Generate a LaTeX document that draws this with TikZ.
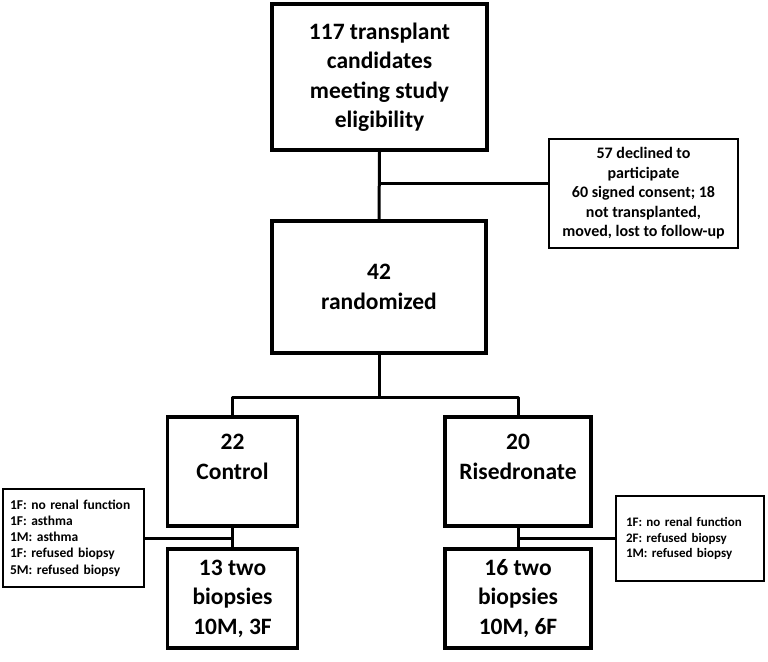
\documentclass[tikz,border=0pt]{standalone}
\usepackage{fontspec}
\setmainfont{Carlito}

\tikzset{
  bigbox/.style={draw, line width=3.2pt, align=center, inner sep=0pt,
    font=\bfseries\fontsize{23.5}{29.5}\selectfont},
  sidebox/.style={draw, line width=1.7pt, align=center, inner sep=0pt,
    font=\bfseries\fontsize{16}{19.5}\selectfont},
  notebox/.style={draw, line width=1.7pt, align=left, inner xsep=7pt, inner ysep=0pt},
  link/.style={line width=3pt, line join=round}
}

\begin{document}
\begin{tikzpicture}[x=1pt,y=-1pt]
        \useasboundingbox (0,0) rectangle (768,661);
        %
        \node [bigbox, minimum width=215pt, minimum height=146pt] (elig) at (379.5,77)
          {117 transplant\\candidates\\meeting study\\eligibility};
        \node [sidebox, minimum width=189pt, minimum height=109pt] (excl) at (643.5,193.5)
          {57 declined to\\participate\\60 signed consent; 18\\not transplanted,\\moved, lost to follow-up};
        \node [bigbox, minimum width=214pt, minimum height=132pt] (rand) at (379,287)
          {42\\randomized};
        %
        \node [bigbox, minimum width=130pt, minimum height=109pt] (ctrl) at (232.5,471.5)
          {22\\Control\\\mbox{}};
        \node [bigbox, minimum width=146pt, minimum height=109pt] (rise) at (518,471.5)
          {20\\Risedronate\\\mbox{}};
        \node [bigbox, minimum width=130pt, minimum height=99pt] (ctrlbx) at (232.5,598.5)
          {13 two\\biopsies\\10M, 3F};
        \node [bigbox, minimum width=146pt, minimum height=99pt] (risebx) at (518,598.5)
          {16 two\\biopsies\\10M, 6F};
        %
        \node [notebox, minimum width=141pt, minimum height=98pt, text width=127pt,
          font=\bfseries\fontsize{13.5}{16.25}\selectfont] (ctrlout) at (73.5,538)
          {1F: no renal function\\1F: asthma\\1M: asthma\\1F: refused biopsy\\5M: refused biopsy};
        \node [notebox, minimum width=148pt, minimum height=85pt, inner xsep=10pt, text width=128pt,
          font=\bfseries\fontsize{13}{15.5}\selectfont] (riseout) at (690,538.5)
          {1F: no renal function\\2F: refused biopsy\\1M: refused biopsy};
        %
        \coordinate (split) at (379,397);
        \draw [link] (elig.south) -- (rand.north);
        \draw [link] ([yshift=10.5pt]excl.west) -- ([yshift=10.5pt]excl.west -| elig.south);
        \draw [link] (rand.south) -- (split);
        \draw [link] (ctrl.north) |- (split) -| (rise.north);
        \draw [link] (ctrl.south) -- (ctrlbx.north);
        \draw [link] (rise.south) -- (risebx.north);
        \draw [link] (ctrlout.east) -- (ctrlout.east -| ctrl.south);
        \draw [link] (riseout.west) -- (riseout.west -| rise.south);
\end{tikzpicture}
\end{document}
